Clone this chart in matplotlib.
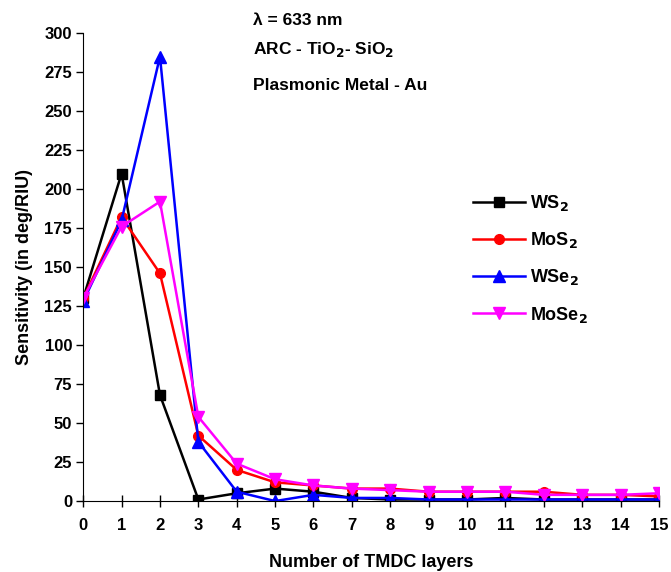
import matplotlib
matplotlib.use("Agg")
import matplotlib.pyplot as plt

plt.rcParams["font.family"] = ["Liberation Sans", "DejaVu Sans"]
plt.rcParams["font.weight"] = "bold"

layers = list(range(16))
ws2 = [130, 210, 68, 1, 5, 8, 6, 2, 1, 1, 1, 2, 1, 1, 1, 1]
mos2 = [130, 182, 146, 42, 20, 12, 10, 8, 8, 6, 6, 6, 6, 4, 4, 3]
wse2 = [128, 180, 285, 38, 6, 0, 4, 2, 2, 1, 1, 1, 1, 1, 1, 1]
mose2 = [130, 176, 192, 54, 24, 14, 10, 8, 7, 6, 6, 6, 4, 4, 4, 5]

fig = plt.figure(figsize=(6.71, 5.72), dpi=100)
ax = fig.add_axes([0.124, 0.124, 0.858, 0.818])

ax.plot(layers, ws2, "-s", color="black", lw=1.8, ms=7, label="WS$_2$")
ax.plot(layers, mos2, "-o", color="red", lw=1.8, ms=7, label="MoS$_2$")
ax.plot(layers, wse2, "-^", color="blue", lw=1.8, ms=9, label="WSe$_2$")
ax.plot(layers, mose2, "-v", color="magenta", lw=1.8, ms=9, label="MoSe$_2$")

ax.set_xlim(0, 15)
ax.set_ylim(0, 300)
ax.set_xticks(layers)
ax.set_yticks(range(0, 301, 25))
for s in ["top", "right"]:
    ax.spines[s].set_visible(False)
ax.tick_params(axis="x", direction="inout", length=8, width=1, labelsize=12, pad=8)
ax.tick_params(axis="y", direction="out", length=5, width=1, labelsize=12, pad=3)
for lab in ax.get_xticklabels() + ax.get_yticklabels():
    lab.set_fontweight("bold")

ax.set_xlabel("Number of TMDC layers", fontsize=13, fontweight="bold", labelpad=15)
ax.set_ylabel("Sensitivity (in deg/RIU)", fontsize=13, fontweight="bold", labelpad=8)

ax.text(0.295, 1.028, "λ = 633 nm", transform=ax.transAxes, fontsize=12.5,
        fontweight="bold", va="center")
ax.text(0.295, 0.966, "ARC - TiO$_2$- SiO$_2$", transform=ax.transAxes, fontsize=12.5,
        fontweight="bold", va="center")
ax.text(0.295, 0.889, "Plasmonic Metal - Au", transform=ax.transAxes, fontsize=12.5,
        fontweight="bold", va="center")

leg = ax.legend(loc="upper left", bbox_to_anchor=(0.648, 0.693), frameon=False,
                fontsize=13, handlelength=2.9, labelspacing=0.95, handletextpad=0.3)
for t in leg.get_texts():
    t.set_fontweight("bold")

fig.savefig("out.png", dpi=100)
